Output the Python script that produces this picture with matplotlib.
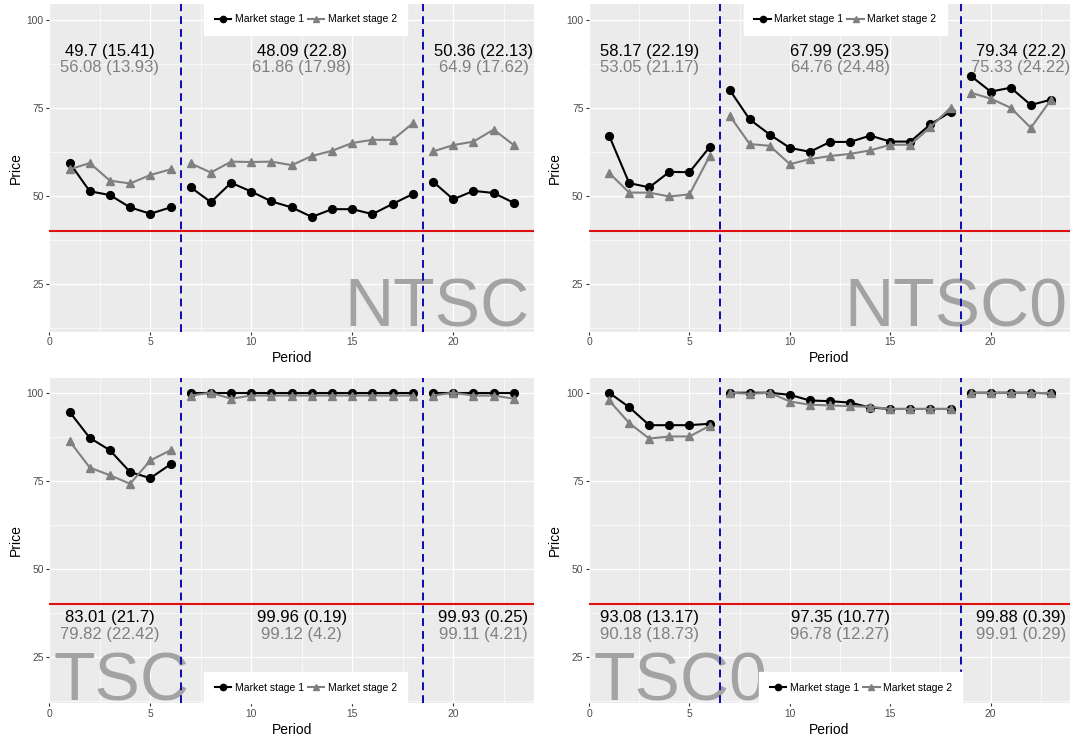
import numpy as np
import matplotlib.pyplot as plt
from matplotlib.lines import Line2D

plt.rcParams['font.family'] = ['Liberation Sans', 'DejaVu Sans']

periods = np.arange(1, 24)
segments = [(0, 6), (6, 18), (18, 23)]   # market stages split by the dashed lines

ntsc_s1 = [59.4, 51.3, 50.2, 46.7, 44.9, 46.7, 52.4, 48.2, 53.7, 51.2, 48.4, 46.7,
           44.0, 46.2, 46.2, 44.8, 47.7, 50.5, 54.0, 49.0, 51.4, 50.8, 48.0]
ntsc_s2 = [57.5, 59.3, 54.3, 53.5, 55.9, 57.5, 59.2, 56.6, 59.7, 59.6, 59.7, 58.7,
           61.3, 62.8, 65.0, 65.9, 65.9, 70.6, 62.6, 64.4, 65.4, 68.8, 64.4]
ntsc0_s1 = [67.1, 53.6, 52.4, 56.8, 56.7, 63.8, 80.1, 71.7, 67.4, 63.6, 62.5, 65.3,
            65.3, 67.1, 65.4, 65.4, 70.3, 73.8, 84.1, 79.6, 80.7, 75.8, 77.3]
ntsc0_s2 = [56.5, 50.9, 50.9, 49.8, 50.4, 61.2, 72.8, 64.7, 64.2, 59.0, 60.4, 61.3,
            61.9, 62.9, 64.5, 64.5, 69.5, 75.0, 79.3, 77.6, 75.0, 69.3, 77.3]
tsc_s1 = [94.6, 87.2, 83.7, 77.5, 75.8, 79.7, 100, 100, 100, 100, 100, 100,
          100, 100, 100, 100, 100, 100, 100, 100, 100, 100, 100]
tsc_s2 = [86.3, 78.8, 76.6, 74.2, 80.8, 83.7, 99.2, 100, 98.3, 99.2, 99.2, 99.2,
          99.2, 99.2, 99.2, 99.2, 99.2, 99.2, 99.2, 100, 99.2, 99.2, 98.3]
tsc0_s1 = [100, 95.9, 90.8, 90.8, 90.8, 91.2, 100, 100, 100, 99.4, 97.8, 97.6,
           97.2, 95.8, 95.4, 95.4, 95.4, 95.4, 100, 100, 100, 100, 99.8]
tsc0_s2 = [97.8, 91.4, 87.0, 87.6, 87.6, 90.6, 100, 99.7, 100, 97.5, 96.6, 96.4,
           96.2, 96.0, 95.4, 95.4, 95.4, 95.4, 100, 100, 100, 100, 100]

text_x = [3, 12.5, 21.5]
ntsc_lab1 = ['49.7 (15.41)', '48.09 (22.8)', '50.36 (22.13)']
ntsc_lab2 = ['56.08 (13.93)', '61.86 (17.98)', '64.9 (17.62)']
ntsc0_lab1 = ['58.17 (22.19)', '67.99 (23.95)', '79.34 (22.2)']
ntsc0_lab2 = ['53.05 (21.17)', '64.76 (24.48)', '75.33 (24.22)']
tsc_lab1 = ['83.01 (21.7)', '99.96 (0.19)', '99.93 (0.25)']
tsc_lab2 = ['79.82 (22.42)', '99.12 (4.2)', '99.11 (4.21)']
tsc0_lab1 = ['93.08 (13.17)', '97.35 (10.77)', '99.88 (0.39)']
tsc0_lab2 = ['90.18 (18.73)', '96.78 (12.27)', '99.91 (0.29)']

panels = [
    # name, s1, s2, labels1, labels2, rect, xmax, ylim, top?, legend x
    ('NTSC', ntsc_s1, ntsc_s2, ntsc_lab1, ntsc_lab2,
     [0.0461, 0.5542, 0.4530, 0.4405], 24.0, (11.4, 104.5), True, 0.529),
    ('NTSC0', ntsc0_s1, ntsc0_s2, ntsc0_lab1, ntsc0_lab2,
     [0.5505, 0.5542, 0.4495, 0.4405], 23.95, (11.4, 104.5), True, 0.533),
    ('TSC', tsc_s1, tsc_s2, tsc_lab1, tsc_lab2,
     [0.0461, 0.0551, 0.4530, 0.4372], 24.0, (12.05, 104.25), False, 0.529),
    ('TSC0', tsc0_s1, tsc0_s2, tsc0_lab1, tsc0_lab2,
     [0.5505, 0.0551, 0.4495, 0.4372], 23.95, (12.05, 104.25), False, 0.565),
]

c1 = 'black'
c2 = '#808080'

fig = plt.figure(figsize=(10.7, 7.44), dpi=100)

for name, s1, s2, lab1, lab2, rect, xmax, ylim, top, legx in panels:
    ax = fig.add_axes(rect)
    ax.set_facecolor('#EBEBEB')
    for sp in ax.spines.values():
        sp.set_visible(False)
    ax.set_xlim(0, xmax)
    ax.set_ylim(*ylim)
    ax.set_xticks([0, 5, 10, 15, 20])
    ax.set_xticks([2.5, 7.5, 12.5, 17.5, 22.5], minor=True)
    ax.set_yticks([25, 50, 75, 100])
    ax.set_yticks([12.5, 37.5, 62.5, 87.5], minor=True)
    ax.grid(which='major', color='white', lw=0.9, zorder=0)
    ax.grid(which='minor', color='white', lw=0.45, zorder=0)
    ax.set_axisbelow(True)
    ax.tick_params(which='major', labelsize=7.4, colors='#333333', labelcolor='#4D4D4D',
                   length=2.5, width=0.8, pad=1.5)
    ax.tick_params(which='minor', length=0)
    ax.set_xlabel('Period', fontsize=10, labelpad=3)
    ax.set_ylabel('Price', fontsize=10, labelpad=3)

    # big watermark
    if top:
        ax.text(23.8, 12.8, name, fontsize=49, color='#A3A3A3', ha='right', va='baseline', zorder=1)
        y1, y2 = 89.6, 85.2
    else:
        ax.text(0.2, 12.9, name, fontsize=49, color='#A3A3A3', ha='left', va='baseline', zorder=1)
        y1, y2 = 34.9, 30.1

    for a, b in segments:
        ax.plot(periods[a:b], s1[a:b], color=c1, lw=1.5, marker='o', ms=5.6, zorder=3)
    for a, b in segments:
        ax.plot(periods[a:b], s2[a:b], color=c2, lw=1.5, marker='^', ms=6.2, zorder=3)

    ax.axhline(40, color='#DD1111', lw=1.5, zorder=2)
    for v in [6.5, 18.5]:
        ax.axvline(v, color='#0A0AB0', lw=1.4, ls=(0, (4, 2.6)), zorder=4)

    for x, t1, t2 in zip(text_x, lab1, lab2):
        ax.text(x, y1, t1, fontsize=12, color='black', ha='center', va='baseline', zorder=5)
        ax.text(x, y2, t2, fontsize=12, color=c2, ha='center', va='baseline', zorder=5)

    handles = [Line2D([], [], color=c1, lw=1.5, marker='o', ms=4.5),
               Line2D([], [], color=c2, lw=1.5, marker='^', ms=4.8)]
    if top:
        loc, anchor = 'upper center', (legx, 1.0)
    else:
        loc, anchor = 'lower center', (legx, 0.0)
    leg = ax.legend(handles, ['Market stage 1', 'Market stage 2'], loc=loc, bbox_to_anchor=anchor,
                    ncol=2, fontsize=7.5, frameon=True, fancybox=False, framealpha=1,
                    edgecolor='white', facecolor='white', borderaxespad=0, handlelength=1.6,
                    handletextpad=0.3, columnspacing=0.4, borderpad=1.0)
    leg.set_zorder(6)

fig.savefig('out.png', dpi=100)
